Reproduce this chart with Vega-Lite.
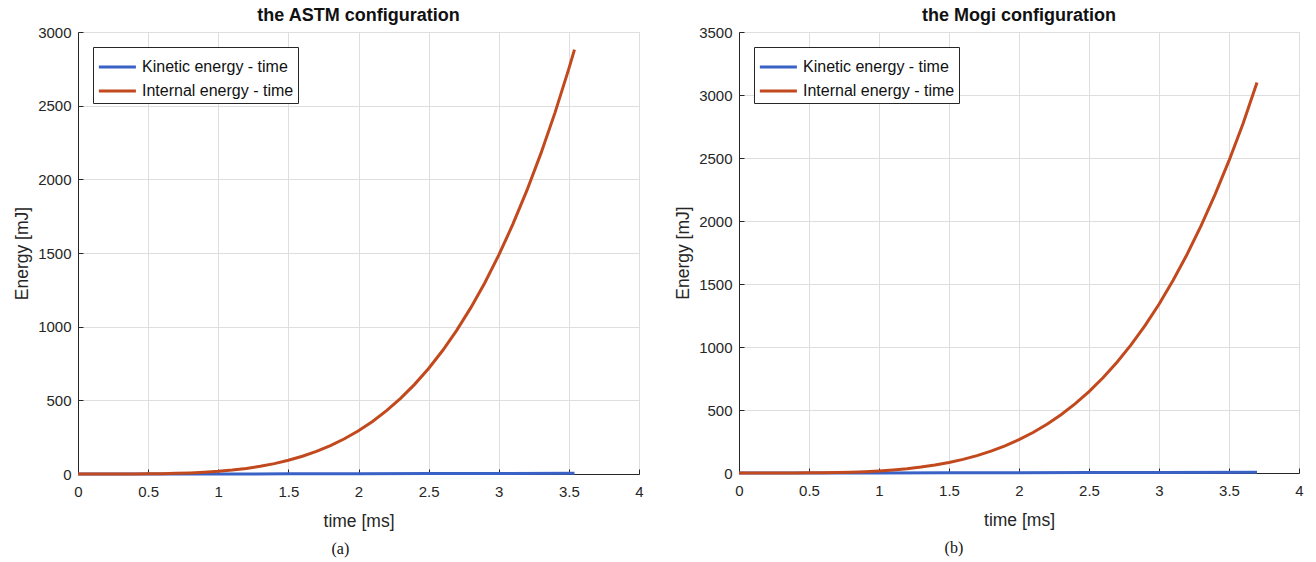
{
  "$schema": "https://vega.github.io/schema/vega-lite/v6.json",
  "background": "white",
  "padding": {"left": 13, "top": 6, "right": 10, "bottom": 4},
  "datasets": {
    "energy": [
      {"panel": "a", "series": "Kinetic energy - time", "t": 0, "E": 0},
      {"panel": "a", "series": "Kinetic energy - time", "t": 0.5, "E": 0.1},
      {"panel": "a", "series": "Kinetic energy - time", "t": 1.0, "E": 0.5},
      {"panel": "a", "series": "Kinetic energy - time", "t": 1.5, "E": 1.1},
      {"panel": "a", "series": "Kinetic energy - time", "t": 2.0, "E": 1.9},
      {"panel": "a", "series": "Kinetic energy - time", "t": 2.5, "E": 2.8},
      {"panel": "a", "series": "Kinetic energy - time", "t": 3.0, "E": 3.8},
      {"panel": "a", "series": "Kinetic energy - time", "t": 3.54, "E": 4.8},
      {"panel": "a", "series": "Internal energy - time", "t": 0, "E": 0},
      {"panel": "a", "series": "Internal energy - time", "t": 0.1, "E": 0.002},
      {"panel": "a", "series": "Internal energy - time", "t": 0.2, "E": 0.03},
      {"panel": "a", "series": "Internal energy - time", "t": 0.3, "E": 0.15},
      {"panel": "a", "series": "Internal energy - time", "t": 0.4, "E": 0.47},
      {"panel": "a", "series": "Internal energy - time", "t": 0.5, "E": 1.15},
      {"panel": "a", "series": "Internal energy - time", "t": 0.6, "E": 2.38},
      {"panel": "a", "series": "Internal energy - time", "t": 0.7, "E": 4.4},
      {"panel": "a", "series": "Internal energy - time", "t": 0.8, "E": 7.5},
      {"panel": "a", "series": "Internal energy - time", "t": 0.9, "E": 12.0},
      {"panel": "a", "series": "Internal energy - time", "t": 1.0, "E": 18.3},
      {"panel": "a", "series": "Internal energy - time", "t": 1.1, "E": 26.9},
      {"panel": "a", "series": "Internal energy - time", "t": 1.2, "E": 38.0},
      {"panel": "a", "series": "Internal energy - time", "t": 1.3, "E": 52.4},
      {"panel": "a", "series": "Internal energy - time", "t": 1.4, "E": 70.5},
      {"panel": "a", "series": "Internal energy - time", "t": 1.5, "E": 92.9},
      {"panel": "a", "series": "Internal energy - time", "t": 1.6, "E": 120.2},
      {"panel": "a", "series": "Internal energy - time", "t": 1.7, "E": 153.2},
      {"panel": "a", "series": "Internal energy - time", "t": 1.8, "E": 192.5},
      {"panel": "a", "series": "Internal energy - time", "t": 1.9, "E": 239.0},
      {"panel": "a", "series": "Internal energy - time", "t": 2.0, "E": 293.4},
      {"panel": "a", "series": "Internal energy - time", "t": 2.1, "E": 356.7},
      {"panel": "a", "series": "Internal energy - time", "t": 2.2, "E": 429.7},
      {"panel": "a", "series": "Internal energy - time", "t": 2.3, "E": 513.3},
      {"panel": "a", "series": "Internal energy - time", "t": 2.4, "E": 608.5},
      {"panel": "a", "series": "Internal energy - time", "t": 2.5, "E": 716.4},
      {"panel": "a", "series": "Internal energy - time", "t": 2.6, "E": 838.2},
      {"panel": "a", "series": "Internal energy - time", "t": 2.7, "E": 975.0},
      {"panel": "a", "series": "Internal energy - time", "t": 2.8, "E": 1127.3},
      {"panel": "a", "series": "Internal energy - time", "t": 2.9, "E": 1296.9},
      {"panel": "a", "series": "Internal energy - time", "t": 3.0, "E": 1485.5},
      {"panel": "a", "series": "Internal energy - time", "t": 3.1, "E": 1693.8},
      {"panel": "a", "series": "Internal energy - time", "t": 3.2, "E": 1923.1},
      {"panel": "a", "series": "Internal energy - time", "t": 3.3, "E": 2174.4},
      {"panel": "a", "series": "Internal energy - time", "t": 3.4, "E": 2449.4},
      {"panel": "a", "series": "Internal energy - time", "t": 3.5, "E": 2751.5},
      {"panel": "a", "series": "Internal energy - time", "t": 3.54, "E": 2880},
      {"panel": "b", "series": "Kinetic energy - time", "t": 0, "E": 0},
      {"panel": "b", "series": "Kinetic energy - time", "t": 0.5, "E": 0.1},
      {"panel": "b", "series": "Kinetic energy - time", "t": 1.0, "E": 0.6},
      {"panel": "b", "series": "Kinetic energy - time", "t": 1.5, "E": 1.3},
      {"panel": "b", "series": "Kinetic energy - time", "t": 2.0, "E": 2.2},
      {"panel": "b", "series": "Kinetic energy - time", "t": 2.5, "E": 3.2},
      {"panel": "b", "series": "Kinetic energy - time", "t": 3.0, "E": 4.3},
      {"panel": "b", "series": "Kinetic energy - time", "t": 3.7, "E": 5.8},
      {"panel": "b", "series": "Internal energy - time", "t": 0, "E": 0},
      {"panel": "b", "series": "Internal energy - time", "t": 0.1, "E": 0.002},
      {"panel": "b", "series": "Internal energy - time", "t": 0.2, "E": 0.026},
      {"panel": "b", "series": "Internal energy - time", "t": 0.3, "E": 0.13},
      {"panel": "b", "series": "Internal energy - time", "t": 0.4, "E": 0.42},
      {"panel": "b", "series": "Internal energy - time", "t": 0.5, "E": 1.03},
      {"panel": "b", "series": "Internal energy - time", "t": 0.6, "E": 2.14},
      {"panel": "b", "series": "Internal energy - time", "t": 0.7, "E": 3.97},
      {"panel": "b", "series": "Internal energy - time", "t": 0.8, "E": 6.8},
      {"panel": "b", "series": "Internal energy - time", "t": 0.9, "E": 10.9},
      {"panel": "b", "series": "Internal energy - time", "t": 1.0, "E": 16.5},
      {"panel": "b", "series": "Internal energy - time", "t": 1.1, "E": 24.2},
      {"panel": "b", "series": "Internal energy - time", "t": 1.2, "E": 34.3},
      {"panel": "b", "series": "Internal energy - time", "t": 1.3, "E": 47.2},
      {"panel": "b", "series": "Internal energy - time", "t": 1.4, "E": 63.5},
      {"panel": "b", "series": "Internal energy - time", "t": 1.5, "E": 83.7},
      {"panel": "b", "series": "Internal energy - time", "t": 1.6, "E": 108.4},
      {"panel": "b", "series": "Internal energy - time", "t": 1.7, "E": 138.1},
      {"panel": "b", "series": "Internal energy - time", "t": 1.8, "E": 173.6},
      {"panel": "b", "series": "Internal energy - time", "t": 1.9, "E": 215.6},
      {"panel": "b", "series": "Internal energy - time", "t": 2.0, "E": 264.6},
      {"panel": "b", "series": "Internal energy - time", "t": 2.1, "E": 321.7},
      {"panel": "b", "series": "Internal energy - time", "t": 2.2, "E": 387.5},
      {"panel": "b", "series": "Internal energy - time", "t": 2.3, "E": 462.9},
      {"panel": "b", "series": "Internal energy - time", "t": 2.4, "E": 548.7},
      {"panel": "b", "series": "Internal energy - time", "t": 2.5, "E": 646.1},
      {"panel": "b", "series": "Internal energy - time", "t": 2.6, "E": 755.9},
      {"panel": "b", "series": "Internal energy - time", "t": 2.7, "E": 879.2},
      {"panel": "b", "series": "Internal energy - time", "t": 2.8, "E": 1016.7},
      {"panel": "b", "series": "Internal energy - time", "t": 2.9, "E": 1169.6},
      {"panel": "b", "series": "Internal energy - time", "t": 3.0, "E": 1339.7},
      {"panel": "b", "series": "Internal energy - time", "t": 3.1, "E": 1527.5},
      {"panel": "b", "series": "Internal energy - time", "t": 3.2, "E": 1734.3},
      {"panel": "b", "series": "Internal energy - time", "t": 3.3, "E": 1961.0},
      {"panel": "b", "series": "Internal energy - time", "t": 3.4, "E": 2208.8},
      {"panel": "b", "series": "Internal energy - time", "t": 3.5, "E": 2478.7},
      {"panel": "b", "series": "Internal energy - time", "t": 3.6, "E": 2772.0},
      {"panel": "b", "series": "Internal energy - time", "t": 3.7, "E": 3100}
    ]
  },
  "config": {
    "font": "Liberation Sans",
    "view": {"stroke": "#d4d4d4", "strokeWidth": 1},
    "axis": {
      "grid": true,
      "gridColor": "#dedede",
      "gridOpacity": 1,
      "domainColor": "#262626",
      "tickColor": "#262626",
      "labelColor": "#262626",
      "titleColor": "#262626",
      "labelFontSize": 15,
      "titleFontSize": 17.5,
      "titleFontWeight": "normal",
      "tickSize": -5,
      "labelFlush": false,
      "labelOverlap": false
    },
    "legend": {
      "strokeColor": "#262626",
      "fillColor": "white",
      "padding": 4,
      "labelFontSize": 16,
      "labelColor": "#111111",
      "labelOffset": 13,
      "symbolType": "M-1,0H1.62",
      "symbolStrokeWidth": 3,
      "symbolSize": 800,
      "rowPadding": 0,
      "cornerRadius": 0
    },
    "title": {"fontSize": 18, "fontWeight": "bold", "color": "#111111"},
    "concat": {"spacing": 30}
  },
  "resolve": {"scale": {"color": "independent", "y": "independent", "x": "independent"}, "legend": {"color": "independent"}},
  "hconcat": [
    {
      "title": {"text": "(a)", "orient": "bottom", "anchor": "middle", "dx": 12, "font": "Liberation Serif", "fontSize": 16, "fontWeight": "normal", "color": "#111111", "offset": 11},
      "vconcat": [
        {
          "title": {"text": "the ASTM configuration", "offset": 0},
          "width": 561,
          "height": 442,
          "data": {"name": "energy"},
          "transform": [{"filter": "datum.panel === 'a'"}],
          "mark": {"type": "line", "strokeWidth": 3},
          "encoding": {
            "x": {"field": "t", "type": "quantitative", "title": "time [ms]", "scale": {"domain": [0, 4], "nice": false}, "axis": {"values": [0, 0.5, 1, 1.5, 2, 2.5, 3, 3.5, 4], "format": "~g", "labelPadding": 15, "titlePadding": 13}},
            "y": {"field": "E", "type": "quantitative", "title": "Energy [mJ]", "scale": {"domain": [0, 3000], "nice": false}, "axis": {"values": [0, 500, 1000, 1500, 2000, 2500, 3000], "format": "d", "labelPadding": 12, "titlePadding": 6}},
            "color": {"field": "series", "type": "nominal", "sort": null, "scale": {"domain": ["Kinetic energy - time", "Internal energy - time"], "range": ["#3a62c6", "#c2491d"]}, "legend": {"title": null, "orient": "top-left", "offset": 15}},
            "order": {"field": "t", "type": "quantitative"}
          }
        }
      ]
    },
    {
      "title": {"text": "(b)", "orient": "bottom", "anchor": "middle", "dx": -35, "font": "Liberation Serif", "fontSize": 16, "fontWeight": "normal", "color": "#111111", "offset": 11},
      "vconcat": [
        {
          "title": {"text": "the Mogi configuration", "offset": 0},
          "width": 560,
          "height": 441,
          "data": {"name": "energy"},
          "transform": [{"filter": "datum.panel === 'b'"}],
          "mark": {"type": "line", "strokeWidth": 3},
          "encoding": {
            "x": {"field": "t", "type": "quantitative", "title": "time [ms]", "scale": {"domain": [0, 4], "nice": false}, "axis": {"values": [0, 0.5, 1, 1.5, 2, 2.5, 3, 3.5, 4], "format": "~g", "labelPadding": 15, "titlePadding": 13}},
            "y": {"field": "E", "type": "quantitative", "title": "Energy [mJ]", "scale": {"domain": [0, 3500], "nice": false}, "axis": {"values": [0, 500, 1000, 1500, 2000, 2500, 3000, 3500], "format": "d", "labelPadding": 12, "titlePadding": 6}},
            "color": {"field": "series", "type": "nominal", "sort": null, "scale": {"domain": ["Kinetic energy - time", "Internal energy - time"], "range": ["#3a62c6", "#c2491d"]}, "legend": {"title": null, "orient": "top-left", "offset": 15}},
            "order": {"field": "t", "type": "quantitative"}
          }
        }
      ]
    }
  ]
}
